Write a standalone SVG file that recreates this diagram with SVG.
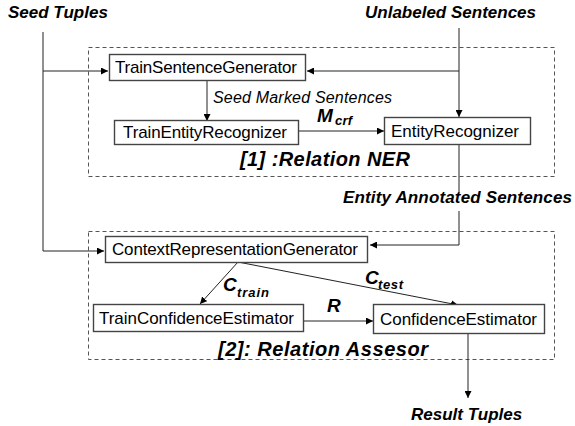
<svg xmlns="http://www.w3.org/2000/svg" width="575" height="426" viewBox="0 0 575 426">
<defs>
<marker id="ah" viewBox="0 0 10 10" refX="10" refY="5" markerWidth="7" markerHeight="7" markerUnits="userSpaceOnUse" orient="auto">
<path d="M0,0 L10,5 L0,10 z" fill="#000"/>
</marker>
<style>
text{font-family:"Liberation Sans",Arial,sans-serif;fill:#000}
.node rect{fill:#fff;stroke:#444;stroke-width:1.4}
.node text{font-size:17px}
.grp{fill:none;stroke:#555;stroke-width:1;stroke-dasharray:4,3}
.lbl{font-weight:bold;font-style:italic;font-size:17px}
.big{font-weight:bold;font-style:italic;font-size:20px}
.it{font-style:italic;font-size:16px}
.sym{font-weight:bold;font-style:italic;font-size:19px}
.sub{font-weight:bold;font-style:italic;font-size:13px}
#connectors path{fill:none;stroke:#222;stroke-width:1}
</style>
</defs>
<rect width="575" height="426" fill="#fff"/>
<g id="groups">
<rect class="grp" x="88.5" y="47.5" width="466" height="129"/>
<rect class="grp" x="88.5" y="231.5" width="466" height="128"/>
<text class="big" x="240" y="166" textLength="170">[1] :Relation NER</text>
<text class="big" x="218" y="356" textLength="210">[2]: Relation Assesor</text>
</g>
<g id="connectors">
<path d="M43,32 V251 H104" marker-end="url(#ah)"/>
<path d="M43,71 H108" marker-end="url(#ah)"/>
<path d="M459,28 V117" marker-end="url(#ah)"/>
<path d="M459,71 H307" marker-end="url(#ah)"/>
<path d="M207,80 V121" marker-end="url(#ah)"/>
<path d="M298,131 H384" marker-end="url(#ah)"/>
<path d="M459,144 V192"/>
<path d="M459,211 V245 H370" marker-end="url(#ah)"/>
<path d="M238,262 L200,304" marker-end="url(#ah)"/>
<path d="M238,262 L458,305" marker-end="url(#ah)"/>
<path d="M303,321 H373" marker-end="url(#ah)"/>
<path d="M468,333 V398" marker-end="url(#ah)"/>
<text class="it" x="213" y="103" textLength="179">Seed Marked Sentences</text>
<text class="sym" x="317" y="122">M</text><text class="sub" x="335" y="125" textLength="17">crf</text>
<text class="lbl" x="343" y="203" textLength="229">Entity Annotated Sentences</text>
<text class="sym" x="223" y="291">C</text><text class="sub" x="237" y="297" textLength="32">train</text>
<text class="sym" x="365" y="284">C</text><text class="sub" x="378" y="289" textLength="25">test</text>
<text class="sym" x="327" y="312">R</text>
</g>
<g id="seed-tuples"><text class="lbl" x="8" y="18">Seed Tuples</text></g>
<g id="unlabeled-sentences"><text class="lbl" x="365" y="18">Unlabeled Sentences</text></g>
<g id="result-tuples"><text class="lbl" x="411" y="420">Result Tuples</text></g>
<g id="train-sentence-generator" class="node"><rect x="109.5" y="54.5" width="196" height="26"/><text x="115" y="73" textLength="182">TrainSentenceGenerator</text></g>
<g id="train-entity-recognizer" class="node"><rect x="114.5" y="120.5" width="184" height="24"/><text x="123" y="138" textLength="164">TrainEntityRecognizer</text></g>
<g id="entity-recognizer" class="node"><rect x="384.5" y="117.5" width="146" height="27"/><text x="391" y="137" textLength="128">EntityRecognizer</text></g>
<g id="context-representation-generator" class="node"><rect x="105.5" y="236.5" width="262" height="26"/><text x="112" y="255" textLength="246">ContextRepresentationGenerator</text></g>
<g id="train-confidence-estimator" class="node"><rect x="93.5" y="304.5" width="210" height="27"/><text x="99" y="324" textLength="195">TrainConfidenceEstimator</text></g>
<g id="confidence-estimator" class="node"><rect x="373.5" y="304.5" width="171" height="29"/><text x="380" y="325" textLength="157">ConfidenceEstimator</text></g>
</svg>
